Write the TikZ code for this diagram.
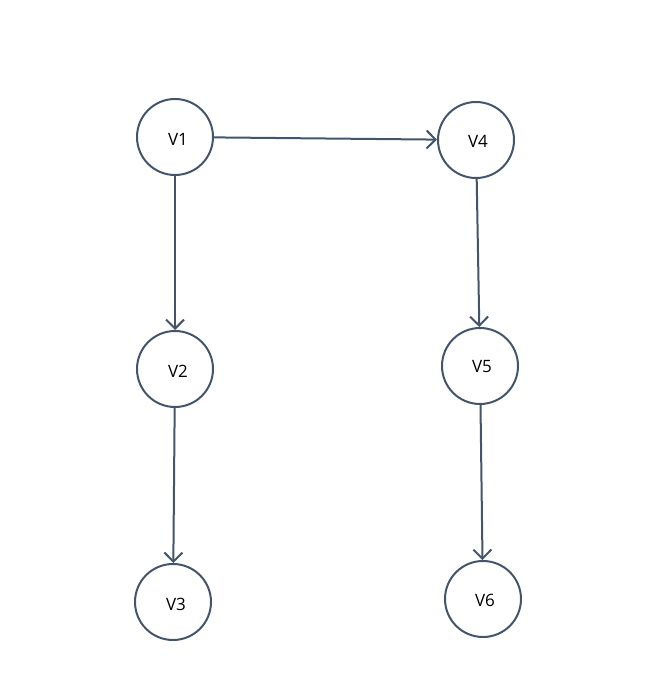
\documentclass[tikz,border=0pt]{standalone}
\usepackage{fontspec}
\setmainfont{Open Sans}
\usetikzlibrary{arrows.meta}
\definecolor{edge}{HTML}{44546A}
\begin{document}
\begin{tikzpicture}[x=1pt,y=-1pt,
  vnode/.style={circle,draw=edge,line width=2pt,minimum size=76pt,inner sep=0pt},
  vlabel/.style={font=\fontsize{17}{19}\selectfont,inner sep=0pt},
  conn/.style={draw=edge,line width=2pt,-{Straight Barb[length=9pt,width=18pt,line width=2pt]}}]
\useasboundingbox (0,0) rectangle (650,692);
\node[vnode] (v1) at (175,137) {};
\node[vnode] (v4) at (476,140) {};
\node[vnode] (v2) at (175,369) {};
\node[vnode] (v5) at (480,366) {};
\node[vnode] (v3) at (173,602) {};
\node[vnode] (v6) at (483,599) {};
\node[vlabel] (t1) at ([xshift=3pt,yshift=-2pt]v1.center) {V1};
\node[vlabel] (t4) at ([xshift=2pt,yshift=-1pt]v4.center) {V4};
\node[vlabel] (t2) at ([xshift=3pt,yshift=-2pt]v2.center) {V2};
\node[vlabel] (t5) at ([xshift=2pt,yshift=-1pt]v5.center) {V5};
\node[vlabel] (t3) at ([xshift=3pt,yshift=-2pt]v3.center) {V3};
\node[vlabel] (t6) at ([xshift=2pt,yshift=-1pt]v6.center) {V6};
\draw[conn] (v1) -- (v4);
\draw[conn] (v1) -- (v2);
\draw[conn] (v2) -- (v3);
\draw[conn] (v4) -- (v5);
\draw[conn] (v5) -- (v6);
\end{tikzpicture}
\end{document}
